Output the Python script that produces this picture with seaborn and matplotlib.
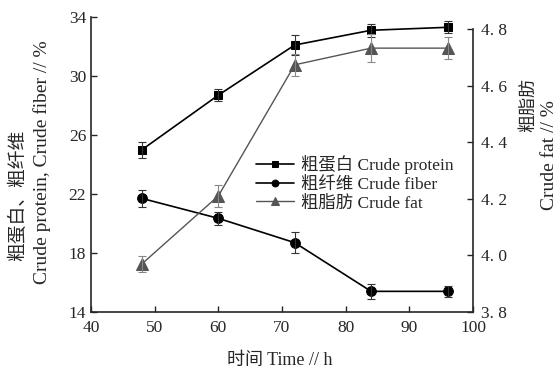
import pandas as pd
import matplotlib
matplotlib.use("Agg")
import matplotlib.pyplot as plt
import seaborn as sns

# data
time_h = [48, 60, 72, 84, 96]
protein = [25.0, 28.7, 32.1, 33.1, 33.3]
protein_err = [0.53, 0.40, 0.65, 0.43, 0.40]
fiber = [21.7, 20.35, 18.7, 15.4, 15.4]
fiber_err = [0.59, 0.45, 0.69, 0.50, 0.38]
fat = [3.97, 4.21, 4.673, 4.732, 4.732]
fat_err = [0.028, 0.038, 0.04, 0.05, 0.04]

x_ticks = [40, 50, 60, 70, 80, 90, 100]
left_ticks = [14, 18, 22, 26, 30, 34]
right_ticks = [3.8, 4.0, 4.2, 4.4, 4.6, 4.8]
right_labels = ["3. 8", "4. 0", "4. 2", "4. 4", "4. 6", "4. 8"]

sns.set_style("ticks")
plt.rcParams["font.family"] = ["Liberation Serif", "Noto Sans CJK SC"]
plt.rcParams["xtick.direction"] = "in"
plt.rcParams["ytick.direction"] = "in"

df = pd.DataFrame({"time": time_h, "protein": protein, "fiber": fiber, "fat": fat})

fig = plt.figure(figsize=(5.6, 3.75), dpi=100)
ax = fig.add_axes([0.1625, 0.168, 0.6821, 0.7867])
ax2 = ax.twinx()

gray = "#555555"
sns.lineplot(data=df, x="time", y="protein", ax=ax, color="black", marker="s",
             markersize=6, lw=1.2, markeredgecolor="black", label="粗蛋白 Crude protein")
sns.lineplot(data=df, x="time", y="fiber", ax=ax, color="black", marker="o",
             markersize=7, lw=1.2, markeredgecolor="black", label="粗纤维 Crude fiber")
sns.lineplot(data=df, x="time", y="fat", ax=ax2, color=gray, marker="^",
             markersize=8, lw=1.0, markeredgecolor=gray, label="粗脂肪 Crude fat")

ax.errorbar(time_h, protein, yerr=protein_err, fmt="none", ecolor="#333333",
            elinewidth=0.8, capsize=3, capthick=0.8)
ax.errorbar(time_h, fiber, yerr=fiber_err, fmt="none", ecolor="#333333",
            elinewidth=0.8, capsize=3, capthick=0.8)
ax2.errorbar(time_h, fat, yerr=fat_err, fmt="none", ecolor="#888888",
             elinewidth=0.8, capsize=3, capthick=0.8)

ax.set_xlim(40, 100)
ax.set_ylim(14, 34)
ax2.set_ylim(3.8, 4.842)
ax.set_xticks(x_ticks)
ax.set_yticks(left_ticks)
ax2.set_yticks(right_ticks)
ax2.set_yticklabels(right_labels)

for a in (ax, ax2):
    a.spines["top"].set_visible(False)
    for s in a.spines.values():
        s.set_linewidth(1.2)
    a.tick_params(labelsize=12.5, length=4, width=1.0)
ax.tick_params(axis="x", pad=6)
ax2.tick_params(axis="y", pad=6)
ax.spines["right"].set_visible(False)
ax2.spines["left"].set_visible(False)
ax2.spines["bottom"].set_visible(False)
ax2.spines["right"].set_bounds(3.8, 4.8)

ax.set_xlabel("")
ax.set_ylabel("")
ax2.set_ylabel("")

h1, l1 = ax.get_legend_handles_labels()
h2, l2 = ax2.get_legend_handles_labels()
ax2.get_legend().remove()
ax.legend(h1 + h2, l1 + l2, loc="upper left", bbox_to_anchor=(0.39, 0.585),
          frameon=False, fontsize=12.5, handlelength=2.2, handletextpad=0.4,
          labelspacing=0.15, markerscale=0.7)

fig.text(0.5, 1 - 360 / 375, "时间 Time // h", ha="center", va="center", fontsize=13)
fig.text(18 / 560, 1 - 195 / 375, "粗蛋白、粗纤维", rotation=90, ha="center",
         va="center", fontsize=13.5)
fig.text(42 / 560, 1 - 162 / 375, "Crude protein, Crude fiber // %", rotation=90,
         ha="center", va="center", fontsize=14)
fig.text(529 / 560, 1 - 105 / 375, "粗脂肪", rotation=90, ha="center",
         va="center", fontsize=13)
fig.text(550 / 560, 1 - 155 / 375, "Crude fat // %", rotation=90, ha="center",
         va="center", fontsize=14)

fig.savefig("out.png", dpi=100)
